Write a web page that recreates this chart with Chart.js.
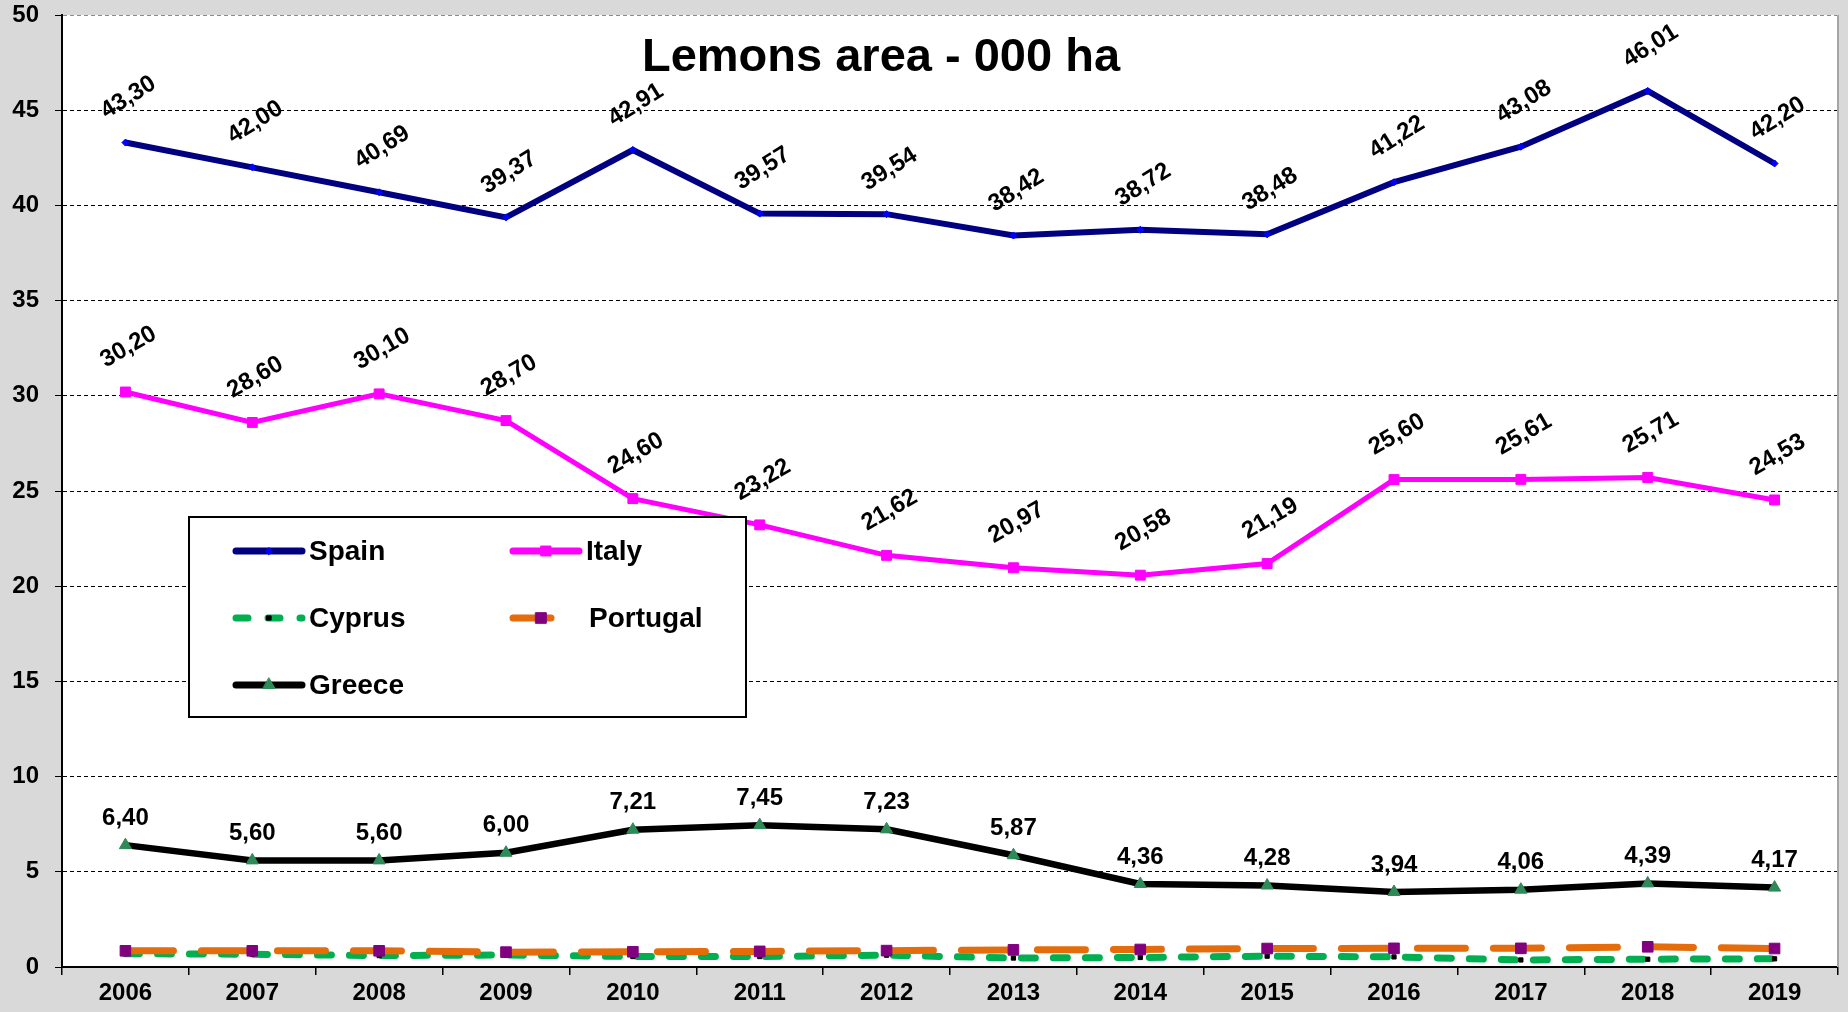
<!DOCTYPE html>
<html><head><meta charset="utf-8">
<script src="https://cdn.jsdelivr.net/npm/chart.js@4.4.0/dist/chart.umd.min.js"></script>
<style>html,body{margin:0;padding:0;background:#d9d9d9;overflow:hidden}#wrap{width:1848px;height:1012px;position:relative}</style>
</head><body><div id="wrap"><canvas id="c" width="1848" height="1012" style="width:1848px;height:1012px"></canvas></div>
<script>
const years = ['2006','2007','2008','2009','2010','2011','2012','2013','2014','2015','2016','2017','2018','2019'];
const spain = [43.30,42.00,40.69,39.37,42.91,39.57,39.54,38.42,38.72,38.48,41.22,43.08,46.01,42.20];
const italy = [30.20,28.60,30.10,28.70,24.60,23.22,21.62,20.97,20.58,21.19,25.60,25.61,25.71,24.53];
const cyprus = [0.70,0.67,0.60,0.63,0.55,0.55,0.62,0.47,0.50,0.57,0.53,0.37,0.41,0.43];
const portugal = [0.85,0.85,0.85,0.78,0.80,0.82,0.86,0.90,0.92,0.97,0.98,0.98,1.06,0.97];
const greece = [6.40,5.60,5.60,6.00,7.21,7.45,7.23,5.87,4.36,4.28,3.94,4.06,4.39,4.17];
const titleText = 'Lemons area - 000 ha';
const yMin = 0, yMax = 50, yStep = 5;

const FONT = "'Liberation Sans', Arial, sans-serif";

const datasets = [
  {label:'Spain', data:spain, borderColor:'#000080', borderWidth:6, pointStyle:'rectRot', pointRadius:3.5,
   pointBackgroundColor:'#0000ff', pointBorderColor:'#0000ff', pointBorderWidth:1, order:1, showLabels:true, lblOff:45, lblRot:-32},
  {label:'Italy', data:italy, borderColor:'#ff00ff', borderWidth:5, pointStyle:'rect', pointRadius:7,
   pointBackgroundColor:'#ff00ff', pointBorderColor:'#ff00ff', pointBorderWidth:1, order:2, showLabels:true, lblOff:45, lblRot:-30},
  {label:'Cyprus', data:cyprus, borderColor:'#00b050', borderWidth:7, borderDash:[14,18], borderCapStyle:'round',
   pointStyle:'rect', pointRadius:3, pointBackgroundColor:'#000', pointBorderColor:'#000', pointBorderWidth:1, order:5},
  {label:'Portugal', data:portugal, borderColor:'#e46c0a', borderWidth:7, borderDash:[48,28], borderCapStyle:'round',
   pointStyle:'rect', pointRadius:7.5, pointBackgroundColor:'#800080', pointBorderColor:'#800080', pointBorderWidth:1, order:4},
  {label:'Greece', data:greece, borderColor:'#000000', borderWidth:6.5, pointStyle:'triangle', pointRadius:7,
   pointBackgroundColor:'#2e8b57', pointBorderColor:'#2e8b57', pointBorderWidth:1, order:3, showLabels:true, lblOff:27, lblRot:0}
];
datasets.forEach(d=>{d.tension=0; d.fill=false; d.pointHoverRadius=d.pointRadius;});

const bgPlugin = {
  id:'bg',
  beforeDraw(chart){
    const {ctx, chartArea:a} = chart;
    ctx.save(); ctx.fillStyle='#fff'; ctx.fillRect(a.left,a.top,a.right-a.left,a.bottom-a.top); ctx.restore();
  },
  afterDraw(chart){
    const {ctx, chartArea:a} = chart;
    ctx.save(); ctx.strokeStyle='#a6a6a6'; ctx.lineWidth=2;
    ctx.beginPath(); ctx.moveTo(a.right,a.top); ctx.lineTo(a.right,a.bottom); ctx.stroke(); ctx.restore();
  }
};

const labelPlugin = {
  id:'vlabels',
  afterDatasetsDraw(chart){
    const ctx = chart.ctx;
    ctx.save();
    ctx.font = "bold 24px " + FONT;
    ctx.fillStyle = '#000'; ctx.textAlign='center'; ctx.textBaseline='middle';
    chart.data.datasets.forEach((ds,i)=>{
      if(!ds.showLabels) return;
      const meta = chart.getDatasetMeta(i);
      meta.data.forEach((pt,j)=>{
        const txt = ds.data[j].toFixed(2).replace('.',',');
        ctx.save();
        ctx.translate(pt.x + (ds.lblRot ? 3 : 0), pt.y - ds.lblOff);
        ctx.rotate(ds.lblRot*Math.PI/180);
        ctx.fillText(txt,0,0);
        ctx.restore();
      });
    });
    ctx.restore();
  }
};

const titlePlugin = {
  id:'intitle',
  afterDraw(chart){
    const ctx = chart.ctx;
    ctx.save(); ctx.font = "bold 47px " + FONT; ctx.fillStyle='#000';
    ctx.textAlign='center'; ctx.textBaseline='middle';
    ctx.fillText(titleText, 881, 58); ctx.restore();
  }
};

const legendPlugin = {
  id:'customLegend',
  afterDraw(chart){
    const ctx = chart.ctx;
    const bx=189, by=517, bw=557, bh=200;
    ctx.save();
    ctx.fillStyle='#fff'; ctx.fillRect(bx,by,bw,bh);
    ctx.strokeStyle='#000'; ctx.lineWidth=2; ctx.strokeRect(bx,by,bw,bh);
    const pos = [[236,551],[513,551],[236,618],[513,618],[236,685]];
    pos.forEach(([x,y],k)=>{
      const ds = chart.data.datasets[k];
      const len = 66;
      ctx.save();
      ctx.strokeStyle=ds.borderColor; ctx.lineWidth=7; ctx.lineCap='round';
      if(ds.borderDash){ ctx.setLineDash(k===2?[12,20]:[38,30]); }
      ctx.beginPath(); ctx.moveTo(x,y); ctx.lineTo(x+ (k===3?56:len),y); ctx.stroke();
      ctx.setLineDash([]);
      ctx.fillStyle=ds.pointBackgroundColor; ctx.strokeStyle=ds.pointBorderColor; ctx.lineWidth=1;
      Chart.helpers.drawPoint(ctx,{pointStyle:ds.pointStyle, radius:ds.pointRadius, borderWidth:1}, x+ (k===3?28:len/2), y);
      ctx.restore();
      ctx.fillStyle='#000'; ctx.font="bold 28px "+FONT; ctx.textAlign='left'; ctx.textBaseline='middle';
      ctx.fillText(ds.label, x+(k===3?76:73), y+1);
    });
    ctx.restore();
  }
};

new Chart(document.getElementById('c'), {
  type:'line',
  data:{labels:years, datasets:datasets},
  options:{
    responsive:false, animation:false, devicePixelRatio:1,
    layout:{padding:{top:15,right:10,left:0,bottom:0}},
    plugins:{legend:{display:false}, tooltip:{enabled:false}, title:{display:false}},
    scales:{
      x:{
        offset:true,
        grid:{offset:true, drawOnChartArea:false, drawTicks:true, tickLength:8, color:'#000', lineWidth:1.5},
        border:{color:'#000', width:2},
        ticks:{color:'#000', font:{family:FONT, size:24, weight:'bold'}, padding:4, maxRotation:0, autoSkip:false},
        afterFit(s){ s.height = 45; s.paddingLeft = 0; s.paddingRight = 0; }
      },
      y:{
        min:yMin, max:yMax,
        ticks:{stepSize:yStep, color:'#000', font:{family:FONT, size:24, weight:'bold'}, padding:16},
        grid:{color:(c)=> c.tick && c.tick.value===yMax ? '#8c8c8c' : '#000', lineWidth:1, tickLength:7, tickColor:'#000'},
        border:{color:'#000', width:2, dash:[4,3]},
        afterFit(s){ s.width = 62; s.paddingTop = 0; s.paddingBottom = 0; }
      }
    }
  },
  plugins:[bgPlugin, labelPlugin, titlePlugin, legendPlugin]
});
</script></body></html>
